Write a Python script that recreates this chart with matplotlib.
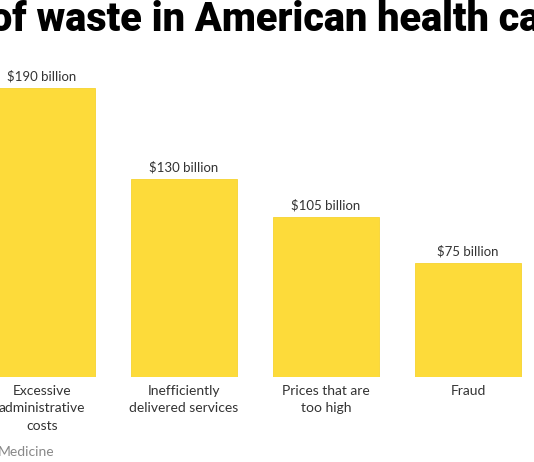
import matplotlib
matplotlib.use("Agg")
import matplotlib.pyplot as plt

categories = ["Excessive\nadministrative\ncosts", "Inefficiently\ndelivered services",
              "Prices that are\ntoo high", "Fraud"]
values = [190, 130, 105, 75]
value_labels = ["$190 billion", "$130 billion", "$105 billion", "$75 billion"]

W, H = 534, 462
fig = plt.figure(figsize=(W / 100, H / 100), dpi=100)
fig.patch.set_facecolor("white")

base_px = 376.5
scale = (base_px - 88) / 190.0
ax = fig.add_axes([0, (H - base_px) / H, 1, base_px / H])
xmin = -42 / 142
ax.set_xlim(xmin, xmin + W / 142)
ax.set_ylim(0, base_px / scale)

x = list(range(len(values)))
bars = ax.bar(x, values, width=106 / 142, color="#FDDB3A", edgecolor="#F7D330", linewidth=0.6)
for xi, v, lab in zip(x, values, value_labels):
    ax.annotate(lab, (xi, v), xytext=(0, 4), textcoords="offset points",
                ha="center", va="bottom", fontsize=9.5, family="Lato", color="#333333")

ax.set_xticks(x)
ax.set_xticklabels(categories, fontsize=10, family="Lato", color="#333333", linespacing=1.55, va="top")
ax.tick_params(axis="x", length=0, pad=6)
ax.set_yticks([])
for s in ax.spines.values():
    s.set_visible(False)

fig.text(-10 / W, 1 - 31 / H, "of waste in American health care", fontsize=28.5, fontweight=900,
         family="Roboto", color="black", ha="left", va="baseline")
fig.text(-2 / W, 1 - 452 / H, "Medicine", fontsize=10, family="Lato", color="#888888",
         ha="left", va="center")

fig.savefig("out.png", dpi=100, facecolor="white")
